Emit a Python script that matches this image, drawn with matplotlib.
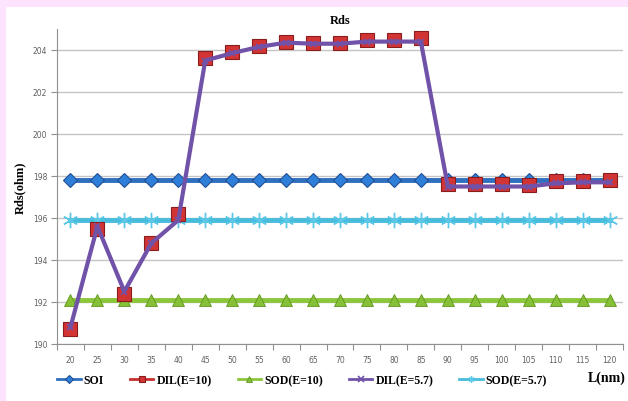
import matplotlib
matplotlib.use("Agg")
import matplotlib.pyplot as plt
import numpy as np

# Channel length L (nm)
lengths = [20, 25, 30, 35, 40, 45, 50, 55, 60, 65, 70, 75, 80, 85, 90, 95, 100, 105, 110, 115, 120]

# Rds (ohm) for each structure
soi = [197.8] * 21
dil_e10 = [190.7, 195.5, 192.4, 194.8, 196.2, 203.6, 203.9, 204.2, 204.4, 204.35, 204.35,
           204.5, 204.5, 204.55, 197.6, 197.6, 197.6, 197.55, 197.75, 197.75, 197.8]
sod_e10 = [192.1] * 21
dil_e57 = [190.8, 195.6, 192.5, 194.8, 195.9, 203.5, 203.85, 204.15, 204.35, 204.3, 204.3,
           204.4, 204.4, 204.4, 197.5, 197.5, 197.5, 197.5, 197.65, 197.7, 197.7]
sod_e57 = [195.9] * 21

y_ticks = [190, 192, 194, 196, 198, 200, 202, 204]

W, H = 628, 402
fig = plt.figure(figsize=(W / 100, H / 100), dpi=100)
fig.patch.set_facecolor("#fde3fd")
# white chart panel on the pink backdrop
fig.add_artist(plt.Rectangle((6 / W, 0), 1, 1 - 8 / H, transform=fig.transFigure,
                             facecolor="white", edgecolor="none", zorder=0))

ax = fig.add_axes([57 / W, (H - 345) / H, (623 - 57) / W, (345 - 30) / H])
ax.set_facecolor("none")
x = np.arange(len(lengths))

serif = ["Liberation Serif", "DejaVu Serif"]

ax.plot(x, soi, color="#2f6fbf", lw=3.5, marker="D", ms=7.5,
        mfc="#2f7fd8", mec="#1f4f95", mew=0.8, label="SOI", zorder=3)
ax.plot(x, dil_e10, color="#c83030", lw=0, marker="s", ms=9.5,
        mfc="#d23434", mec="#8a1c1c", mew=0.8, label="DIL(E=10)", zorder=4)
ax.plot(x, sod_e10, color="#8cc63c", lw=3.5, marker="^", ms=9,
        mfc="#86c036", mec="#5f9420", mew=0.6, label="SOD(E=10)", zorder=3)
ax.plot(x, dil_e57, color="#7052a8", lw=3, marker="x", ms=4,
        mec="#7052a8", mew=1.2, label="DIL(E=5.7)", zorder=5)
ax.plot(x, sod_e57, color="#48bcdc", lw=3.5, marker=(6, 2, 0), ms=11,
        mec="#5cc8e8", mew=1.0, label="SOD(E=5.7)", zorder=3)

ax.set_xlim(-0.5, len(lengths) - 0.5)
ax.set_ylim(190, 205)

ax.set_yticks(y_ticks)
ax.set_yticklabels([str(v) for v in y_ticks])
ax.yaxis.grid(True, color="#c4c4c4", lw=1)
ax.set_axisbelow(True)

ax.set_xticks(np.arange(-0.5, len(lengths), 1.0))
ax.set_xticklabels([])
ax.set_xticks(x, minor=True)
ax.set_xticklabels([str(v) for v in lengths], minor=True)
ax.tick_params(axis="x", which="minor", length=0, pad=8)
ax.tick_params(axis="x", which="major", length=4, color="#909090", direction="out")
ax.tick_params(axis="y", length=4, color="#909090", direction="out", pad=3)
ax.tick_params(labelsize=5.5, labelcolor="#606060", which="both")
for lab in ax.get_xticklabels(minor=True) + ax.get_yticklabels():
    lab.set_fontfamily("DejaVu Sans")

for s in ["top", "right"]:
    ax.spines[s].set_visible(False)
ax.spines["left"].set_color("#909090")
ax.spines["bottom"].set_color("#909090")

fig.text(340 / W, 1 - 21 / H, "Rds", ha="center", va="center",
         fontsize=9, fontweight="bold", family=serif)
fig.text(20 / W, 1 - 188 / H, "Rds(ohm)", ha="center", va="center", rotation=90,
         fontsize=9, fontweight="bold", family=serif)
fig.text(607 / W, 1 - 378 / H, "L(nm)", ha="center", va="center",
         fontsize=10, fontweight="bold", family=serif)

leg = fig.legend(loc="center left", bbox_to_anchor=(57 / W, 1 - 381 / H), ncol=5,
                 frameon=False, handlelength=2.0, handletextpad=0.25, columnspacing=2.2,
                 borderaxespad=0, borderpad=0,
                 prop={"family": serif, "weight": "bold", "size": 8.5})
for h in leg.legend_handles:
    h.set_markersize(4.5)
    h.set_linewidth(2)

fig.savefig("out.png", dpi=100)
